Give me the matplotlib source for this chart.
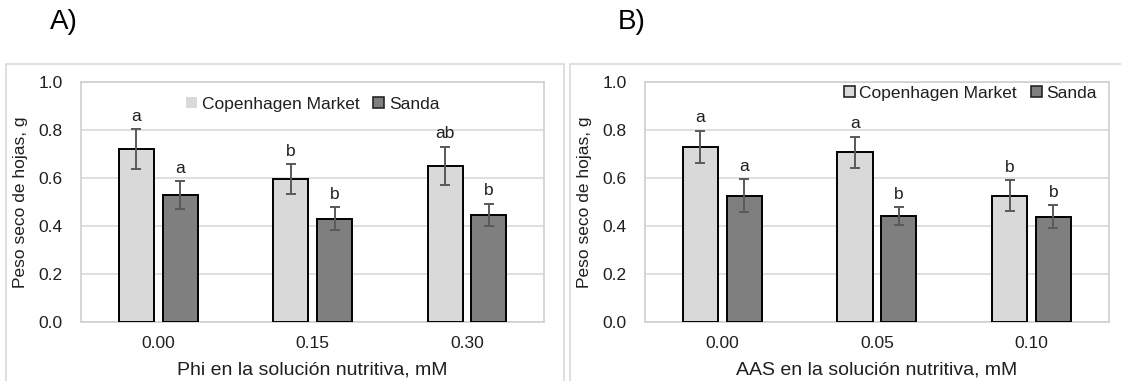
import matplotlib
matplotlib.use("Agg")
import matplotlib.pyplot as plt
import numpy as np
from matplotlib.patches import Patch, Rectangle

plt.rcParams['font.family'] = ['Liberation Sans', 'DejaVu Sans']

# Data
series_names = ["Copenhagen Market", "Sanda"]
phi_levels = ["0.00", "0.15", "0.30"]
phi_cm = [0.720, 0.594, 0.650]
phi_cm_err = [0.083, 0.062, 0.080]
phi_sanda = [0.529, 0.431, 0.446]
phi_sanda_err = [0.059, 0.048, 0.047]
phi_cm_letters = ["a", "b", "ab"]
phi_sanda_letters = ["a", "b", "b"]

aas_levels = ["0.00", "0.05", "0.10"]
aas_cm = [0.730, 0.706, 0.526]
aas_cm_err = [0.066, 0.066, 0.064]
aas_sanda = [0.526, 0.443, 0.439]
aas_sanda_err = [0.068, 0.037, 0.048]
aas_cm_letters = ["a", "a", "b"]
aas_sanda_letters = ["a", "b", "b"]

yticks = [0.0, 0.2, 0.4, 0.6, 0.8, 1.0]

light = "#D9D9D9"
dark = "#7F7F7F"
grid_c = "#D9D9D9"
text_c = "#1F1F1F"
err_c = "#595959"

W, H = 1121, 381
fig = plt.figure(figsize=(W / 100, H / 100), dpi=100)

# Outer panel frames
for x0, x1 in [(6, 564.5), (569.5, 1130)]:
    fig.patches.append(Rectangle((x0 / W, -0.05), (x1 - x0) / W, (H - 64) / H + 0.05,
                                 transform=fig.transFigure, fill=False,
                                 edgecolor="#D9D9D9", linewidth=1.2, zorder=0))


def panel(ax_rect, levels, cm, cm_err, sa, sa_err, cm_let, sa_let, xlabel,
          legend_kw, cm_edge):
    ax = fig.add_axes(ax_rect)
    x = np.arange(len(levels))
    w = 0.227
    off = 0.1415
    ax.bar(x - off, cm, w, color=light, edgecolor="black", linewidth=1.4, zorder=3)
    ax.bar(x + off, sa, w, color=dark, edgecolor="black", linewidth=1.4, zorder=3)
    ax.errorbar(x - off, cm, yerr=cm_err, fmt="none", ecolor=err_c, elinewidth=1.4,
                capsize=3.8, capthick=1.4, zorder=4)
    ax.errorbar(x + off, sa, yerr=sa_err, fmt="none", ecolor=err_c, elinewidth=1.4,
                capsize=3.8, capthick=1.4, zorder=4)
    for xi, v, e, t in zip(x - off, cm, cm_err, cm_let):
        ax.text(xi, v + e + 0.022, t, ha="center", va="bottom", fontsize=12.5, color=text_c)
    for xi, v, e, t in zip(x + off, sa, sa_err, sa_let):
        ax.text(xi, v + e + 0.022, t, ha="center", va="bottom", fontsize=12.5, color=text_c)
    ax.set_xlim(-0.5, len(levels) - 0.5)
    ax.set_ylim(0, 1.0)
    ax.set_yticks(yticks)
    ax.set_yticklabels([f"{t:.1f}" for t in yticks])
    ax.set_xticks(x)
    ax.set_xticklabels(levels)
    ax.tick_params(axis="both", length=0, labelsize=12.5, colors=text_c)
    ax.tick_params(axis="y", pad=13)
    ax.tick_params(axis="x", pad=10)
    ax.yaxis.grid(True, color=grid_c, linewidth=1.2, zorder=0)
    ax.set_axisbelow(True)
    for s in ax.spines.values():
        s.set_color("#D0D0D0")
        s.set_linewidth(1.2)
    ax.set_ylabel("Peso seco de hojas, g", fontsize=12.5, color=text_c, labelpad=8)
    ax.set_xlabel(xlabel, fontsize=14, color=text_c, labelpad=7.5)
    handles = [Patch(facecolor=light, edgecolor=cm_edge, linewidth=1.2),
               Patch(facecolor=dark, edgecolor="#262626", linewidth=1.2)]
    leg = ax.legend(handles, series_names, ncol=2, frameon=False, fontsize=12.5,
                    handlelength=0.65, handleheight=0.65, handletextpad=0.25,
                    columnspacing=0.8, borderaxespad=0.0, **legend_kw)
    for t in leg.get_texts():
        t.set_color(text_c)
    return ax


axA = panel([81 / W, 58.7 / H, 463.3 / W, 240.6 / H], phi_levels, phi_cm, phi_cm_err,
            phi_sanda, phi_sanda_err, phi_cm_letters, phi_sanda_letters,
            "Phi en la solución nutritiva, mM",
            dict(loc="center", bbox_to_anchor=(0.5, 0.907)), "none")
axB = panel([645 / W, 58.7 / H, 463.7 / W, 240.6 / H], aas_levels, aas_cm, aas_cm_err,
            aas_sanda, aas_sanda_err, aas_cm_letters, aas_sanda_letters,
            "AAS en la solución nutritiva, mM",
            dict(loc="center right", bbox_to_anchor=(0.99, 0.953)), "#262626")

fig.text(50 / W, 1 - 22 / H, "A)", fontsize=20, ha="left", va="center", color="black")
fig.text(618 / W, 1 - 22 / H, "B)", fontsize=20, ha="left", va="center", color="black")

fig.savefig("out.png", dpi=100)
